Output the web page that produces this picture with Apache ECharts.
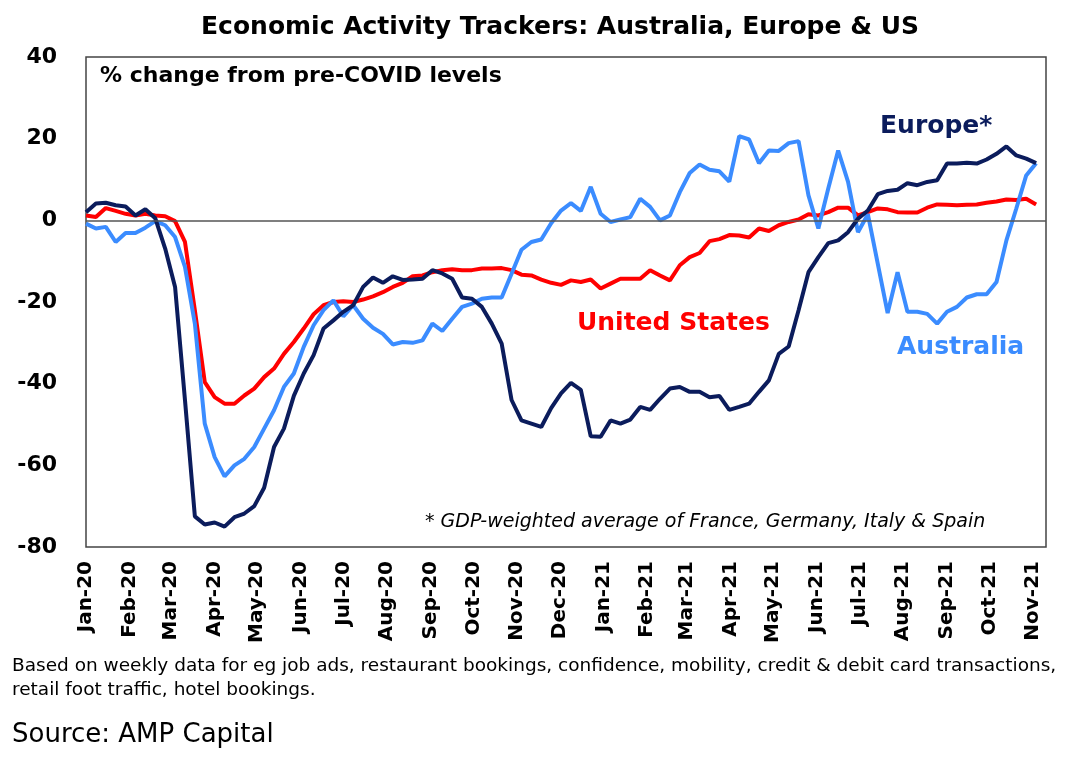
<!DOCTYPE html>
<html>
<head>
<meta charset="utf-8">
<title>Economic Activity Trackers</title>
<script src="https://cdn.jsdelivr.net/npm/echarts@6/dist/echarts.min.js"></script>
<style>
  html, body { margin: 0; padding: 0; background: #fff; }
  #chart { width: 1067px; height: 758px; }
</style>
</head>
<body>
<div id="chart"></div>
<script>
// weekly readings, % change from pre-COVID levels (first week = 1 Jan 2020)
var firstWeek = '2020-01-01';
var axisEnd = '2021-11-10';
var monthNames = ['Jan','Feb','Mar','Apr','May','Jun','Jul','Aug','Sep','Oct','Nov','Dec'];
var yTicks = [-80, -60, -40, -20, 0, 20, 40];

var europe = [2, 4.1, 4.3, 3.7, 3.4, 1.2, 2.7, 0.5, -6.9, -16.3,
              -44, -72.5, -74.5, -74, -75, -72.7, -71.8, -70, -65.5, -55.5,
              -51, -43, -37.5, -33, -26.5, -24.5, -22.4, -20.8, -16.3, -14,
              -15.3, -13.7, -14.6, -14.5, -14.3, -12.2, -13, -14.3, -18.9, -19.2,
              -21.2, -25.3, -30.2, -44, -49, -49.8, -50.6, -46, -42.4, -39.8,
              -41.5, -52.9, -53, -49, -49.8, -48.8, -45.7, -46.4, -43.7, -41.2,
              -40.8, -42, -42, -43.3, -43, -46.4, -45.7, -44.9, -42, -39.2,
              -32.7, -30.9, -22, -12.7, -9, -5.6, -4.9, -2.9, 0.4, 2.4,
              6.4, 7.2, 7.5, 9.1, 8.6, 9.4, 9.8, 13.9, 13.9, 14.1,
              13.9, 14.9, 16.3, 18.1, 15.9, 15.1, 14];

var unitedStates = [1.2, 0.8, 3, 2.3, 1.6, 1.2, 1.6, 1.2, 1, -0.2,
                    -5.3, -22, -39.6, -43.3, -44.9, -44.9, -42.9, -41.2, -38.4, -36.3,
                    -32.7, -29.8, -26.5, -23, -20.8, -20, -19.8, -20, -19.4, -18.6,
                    -17.6, -16.3, -15.3, -13.7, -13.5, -12.7, -12.2, -12, -12.2, -12.2,
                    -11.8, -11.8, -11.7, -12.2, -13.3, -13.5, -14.5, -15.3, -15.8, -14.7,
                    -15.1, -14.5, -16.7, -15.5, -14.3, -14.3, -14.3, -12.2, -13.5, -14.7,
                    -11, -9, -8, -5.1, -4.6, -3.6, -3.7, -4.2, -2, -2.6,
                    -1.2, -0.4, 0.2, 1.5, 1.2, 2, 3.1, 3.1, 1.2, 2,
                    2.9, 2.7, 2, 1.9, 1.9, 3.1, 3.9, 3.8, 3.7, 3.8,
                    3.9, 4.3, 4.6, 5.1, 5, 5.3, 3.9];

var australia = [-0.8, -2, -1.6, -5.3, -3.1, -3.1, -1.8, -0.2, -1.2, -4.1,
                 -11.4, -25.3, -49.8, -58, -62.7, -60, -58.4, -55.5, -51, -46.5,
                 -40.8, -37.5, -31, -25.7, -22, -19.6, -23.5, -20.8, -24.1, -26.3,
                 -27.8, -30.4, -29.8, -30, -29.4, -25.3, -27.1, -24.1, -21.2, -20.4,
                 -19.2, -18.9, -18.9, -13.1, -7.2, -5.3, -4.7, -0.7, 2.4, 4.2,
                 2.3, 8.2, 1.6, -0.4, 0.2, 0.8, 5.3, 3.3, 0, 1.2,
                 6.9, 11.6, 13.7, 12.4, 12, 9.5, 20.6, 19.8, 14, 17.1,
                 17, 18.9, 19.4, 6.1, -2, 7.8, 17.1, 9.4, -2.9, 1.5,
                 -10.6, -22.7, -12.7, -22.4, -22.4, -22.9, -25.3, -22.4, -21.2, -18.9,
                 -18.1, -18.1, -15.1, -4.9, 2.9, 11, 14];

var FONT = '"DejaVu Sans", "Liberation Sans", Arial, sans-serif';
var NAVY = '#0b1c5c', RED = '#ff0000', BLUE = '#3b8cff';

// daily category axis so month labels land on the 1st of each month
var DAY = 24 * 3600 * 1000;
var t0 = Date.parse(firstWeek + 'T00:00:00Z');
var t1 = Date.parse(axisEnd + 'T00:00:00Z');
var days = [];
for (var t = t0; t <= t1; t += DAY) {
    days.push(new Date(t).toISOString().slice(0, 10));
}

function weekly(values) {
    return values.map(function (v, i) { return [i * 7, v]; });
}

function isMonthStart(idx, val) {
    return val.slice(8, 10) === '01';
}

var chart = echarts.init(document.getElementById('chart'));

var option = {
    animation: false,
    backgroundColor: '#ffffff',
    grid: {
        left: 86, right: 21, top: 57, bottom: 211,
        show: true,
        borderColor: '#444444',
        borderWidth: 1.5
    },
    xAxis: {
        type: 'category',
        data: days,
        boundaryGap: false,
        axisLine: { show: false },
        axisTick: { show: false },
        splitLine: { show: false },
        axisLabel: {
            interval: isMonthStart,
            rotate: 90,
            margin: 14,
            color: '#000',
            fontFamily: FONT,
            fontWeight: 'bold',
            fontSize: 20,
            formatter: function (val) {
                return monthNames[parseInt(val.slice(5, 7), 10) - 1] + '-' + val.slice(2, 4);
            }
        }
    },
    yAxis: {
        type: 'value',
        min: yTicks[0],
        max: yTicks[yTicks.length - 1],
        interval: 20,
        axisLine: { show: false },
        axisTick: { show: false },
        splitLine: { show: false },
        axisLabel: {
            margin: 29,
            color: '#000',
            fontFamily: FONT,
            fontWeight: 'bold',
            fontSize: 22
        }
    },
    series: [
        {
            name: 'United States',
            type: 'line',
            data: weekly(unitedStates),
            showSymbol: false,
            lineStyle: { color: RED, width: 4 },
            markLine: {
                silent: true,
                symbol: ['none', 'none'],
                label: { show: false },
                lineStyle: { color: '#555555', width: 1.5, type: 'solid' },
                data: [{ yAxis: 0 }]
            }
        },
        {
            name: 'Australia',
            type: 'line',
            data: weekly(australia),
            showSymbol: false,
            lineStyle: { color: BLUE, width: 4 }
        },
        {
            name: 'Europe*',
            type: 'line',
            data: weekly(europe),
            showSymbol: false,
            lineStyle: { color: NAVY, width: 4 }
        }
    ],
    graphic: [
        {
            type: 'text', x: 560, y: 27,
            style: {
                text: 'Economic Activity Trackers: Australia, Europe & US',
                font: 'bold 25px ' + FONT, fill: '#000',
                textAlign: 'center', textVerticalAlign: 'middle'
            }
        },
        {
            type: 'text', left: 100, top: 65,
            style: { text: '% change from pre-COVID levels', font: 'bold 22px ' + FONT, fill: '#000' }
        },
        {
            type: 'text', left: 880, top: 114,
            style: { text: 'Europe*', font: 'bold 25px ' + FONT, fill: NAVY }
        },
        {
            type: 'text', left: 577, top: 311,
            style: { text: 'United States', font: 'bold 25px ' + FONT, fill: RED }
        },
        {
            type: 'text', left: 897, top: 335,
            style: { text: 'Australia', font: 'bold 25px ' + FONT, fill: BLUE }
        },
        {
            type: 'text', left: 425, top: 513,
            style: {
                text: '* GDP-weighted average of France, Germany, Italy & Spain',
                font: 'italic 19px ' + FONT, fill: '#000'
            }
        },
        {
            type: 'text', left: 12, top: 654,
            style: {
                text: 'Based on weekly data for eg job ads, restaurant bookings, confidence, mobility, credit & debit card transactions,\nretail foot traffic, hotel bookings.',
                font: '18.5px ' + FONT, lineHeight: 24, fill: '#000'
            }
        },
        {
            type: 'text', left: 12, top: 722,
            style: { text: 'Source: AMP Capital', font: '26px ' + FONT, fill: '#000' }
        }
    ]
};

chart.setOption(option);
</script>
</body>
</html>
